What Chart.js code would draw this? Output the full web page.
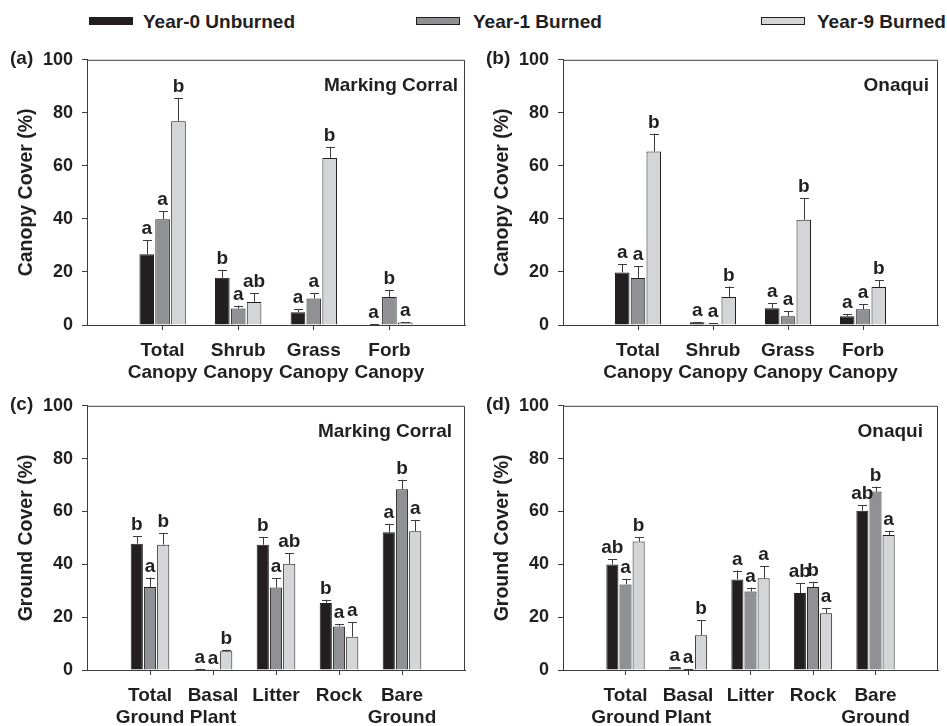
<!DOCTYPE html>
<html>
<head>
<meta charset="utf-8">
<script src="https://cdn.jsdelivr.net/npm/chart.js@4.4.1/dist/chart.umd.min.js"></script>
<style>
  body { margin: 0; background: #fff; width: 947px; height: 726px; position: relative; overflow: hidden;
         font-family: "Liberation Sans", Arial, sans-serif; }
  canvas { position: absolute; }
  .lg { position: absolute; top: 10px; font-weight: bold; font-size: 19px; line-height: 24px; color: #231f20; white-space: nowrap; }
  .sw { position: absolute; top: 17px; width: 44px; height: 8px; border: 1px solid #231f20; box-sizing: border-box; }
</style>
</head>
<body>
<div class="sw" style="left:89px;background:#231f20"></div><div class="lg" style="left:143px">Year-0 Unburned</div>
<div class="sw" style="left:416px;background:#909194"></div><div class="lg" style="left:473px">Year-1 Burned</div>
<div class="sw" style="left:761px;background:#d4d5d7"></div><div class="lg" style="left:817px">Year-9 Burned</div>

<canvas id="ca" width="474" height="346" style="left:0;top:40px"></canvas>
<canvas id="cb" width="471" height="346" style="left:476px;top:40px"></canvas>
<canvas id="cc" width="474" height="340" style="left:0;top:386px"></canvas>
<canvas id="cd" width="471" height="340" style="left:476px;top:386px"></canvas>

<script>
const seriesNames = ["Year-0 Unburned", "Year-1 Burned", "Year-9 Burned"];
const barColors = ["#231f20", "#909194", "#d4d5d7"];
const yTicks = [0, 20, 40, 60, 80, 100];

const canopyCats = [["Total", "Canopy"], ["Shrub", "Canopy"], ["Grass", "Canopy"], ["Forb", "Canopy"]];
const groundCats = [["Total", "Ground"], ["Basal", "Plant"], "Litter", "Rock", ["Bare", "Ground"]];

// (a) Marking Corral, canopy
const mcCanopy0 = [26.7, 17.8, 4.8, 0.2];
const mcCanopy1 = [39.9, 6.2, 10.0, 10.6];
const mcCanopy9 = [76.8, 8.7, 63.0, 0.9];
const mcCanopyErr0 = [5.2, 3.0, 1.1, 0.1];
const mcCanopyErr1 = [2.9, 1.1, 1.9, 2.7];
const mcCanopyErr9 = [8.9, 3.2, 4.2, 0.2];
const mcCanopyLet0 = ["a", "b", "a", "a"];
const mcCanopyLet1 = ["a", "a", "a", "b"];
const mcCanopyLet9 = ["b", "ab", "b", "a"];

// (b) Onaqui, canopy
const onCanopy0 = [19.8, 1.0, 6.3, 3.3];
const onCanopy1 = [17.7, 0.5, 3.3, 5.9];
const onCanopy9 = [65.4, 10.6, 39.7, 14.3];
const onCanopyErr0 = [3.2, 0.2, 1.9, 0.8];
const onCanopyErr1 = [4.5, 0.1, 1.8, 2.0];
const onCanopyErr9 = [6.8, 3.9, 8.1, 2.5];
const onCanopyLet0 = ["a", "a", "a", "a"];
const onCanopyLet1 = ["a", "a", "a", "a"];
const onCanopyLet9 = ["b", "b", "b", "b"];

// (c) Marking Corral, ground
const mcGround0 = [47.8, 0.4, 47.4, 25.4, 52.1];
const mcGround1 = [31.4, 0.1, 31.2, 16.5, 68.4];
const mcGround9 = [47.4, 7.1, 40.2, 12.6, 52.5];
const mcGroundErr0 = [2.9, 0.1, 3.0, 1.2, 3.2];
const mcGroundErr1 = [3.6, 0.05, 3.6, 0.8, 3.6];
const mcGroundErr9 = [4.3, 0.6, 4.1, 5.5, 4.3];
const mcGroundLet0 = ["b", "a", "b", "b", "a"];
const mcGroundLet1 = ["a", "a", "a", "a", "b"];
const mcGroundLet9 = ["b", "b", "ab", "a", "a"];

// (d) Onaqui, ground
const onGround0 = [39.9, 1.0, 34.3, 29.1, 60.3];
const onGround1 = [32.4, 0.4, 29.7, 31.4, 67.6];
const onGround9 = [48.6, 13.2, 34.7, 21.5, 51.1];
const onGroundErr0 = [2.1, 0.1, 3.3, 3.7, 2.0];
const onGroundErr1 = [2.1, 0.05, 1.5, 2.0, 1.8];
const onGroundErr9 = [1.6, 5.6, 4.7, 1.8, 1.5];
const onGroundLet0 = ["ab", "a", "a", "ab", "ab"];
const onGroundLet1 = ["a", "a", "a", "b", "b"];
const onGroundLet9 = ["b", "b", "a", "a", "a"];

const FONT = '"Liberation Sans", Arial, sans-serif';
const INK = "#231f20";
const AXIS = "#3c3c3c";
Chart.defaults.font.family = FONT;
Chart.defaults.color = INK;

// error bars, significance letters, frame and panel texts
const annotate = {
  id: "annotate",
  afterDatasetsDraw(chart, args, opts) {
    const ctx = chart.ctx;
    const area = chart.chartArea;
    const y = chart.scales.y;
    ctx.save();
    ctx.strokeStyle = AXIS;
    ctx.lineWidth = 1;
    ctx.beginPath();
    ctx.moveTo(area.left, area.top + 0.5);
    ctx.lineTo(area.right - 0.5, area.top + 0.5);
    ctx.lineTo(area.right - 0.5, area.bottom);
    ctx.stroke();

    chart.data.datasets.forEach((ds, i) => {
      const meta = chart.getDatasetMeta(i);
      meta.data.forEach((bar, j) => {
        const v = ds.data[j];
        if (v == null) return;
        const top = y.getPixelForValue(v + ds.errs[j - 1]);
        const bx = Math.round(bar.x) + 0.5;
        ctx.strokeStyle = AXIS;
        ctx.beginPath();
        ctx.moveTo(bx, bar.y);
        ctx.lineTo(bx, top);
        ctx.moveTo(bx - 4.5, Math.round(top) + 0.5);
        ctx.lineTo(bx + 4.5, Math.round(top) + 0.5);
        ctx.stroke();
        ctx.fillStyle = INK;
        ctx.font = "bold 19px " + FONT;
        ctx.textAlign = "center";
        ctx.textBaseline = "alphabetic";
        ctx.fillText(ds.letters[j - 1], bar.x, top - 6);
      });
    });

    ctx.fillStyle = INK;
    ctx.font = "bold 19px " + FONT;
    ctx.textBaseline = "middle";
    ctx.textAlign = "left";
    ctx.fillText(opts.tag, area.left - 77, area.top - 1);
    ctx.textAlign = "right";
    ctx.fillText(opts.site, area.right + opts.siteDx, area.top + 26);
    ctx.restore();
  }
};

function makePanel(id, cats, vals, errs, letters, tag, site, siteDx, yTitle, padTop, xHeight) {
  const labels = [""].concat(cats, [""]);
  const last = labels.length - 1;
  const datasets = vals.map((v, i) => ({
    label: seriesNames[i],
    data: [null].concat(v, [null]),
    backgroundColor: barColors[i],
    borderColor: INK,
    borderWidth: 1,
    categoryPercentage: 0.63,
    barPercentage: 0.92,
    errs: errs[i],
    letters: letters[i]
  }));

  return new Chart(document.getElementById(id), {
    type: "bar",
    data: { labels: labels, datasets: datasets },
    plugins: [annotate],
    options: {
      responsive: false,
      animation: false,
      devicePixelRatio: 1,
      layout: { padding: { top: padTop, right: 1, left: 0, bottom: 0 } },
      plugins: {
        legend: { display: false },
        tooltip: { enabled: false },
        annotate: { tag: tag, site: site, siteDx: siteDx }
      },
      scales: {
        x: {
          type: "category",
          offset: false,
          afterFit: (s) => { s.height = xHeight; },
          grid: {
            offset: false,
            drawOnChartArea: false,
            tickLength: 5,
            color: (c) => (c.index === 0 || c.index === last) ? "rgba(0,0,0,0)" : AXIS
          },
          border: { color: AXIS, width: 1 },
          ticks: {
            maxRotation: 0,
            autoSkip: false,
            padding: 9,
            font: { size: 19, weight: "bold", lineHeight: 1.2 }
          }
        },
        y: {
          min: 0,
          max: 100,
          afterFit: (s) => { s.width = 87; },
          afterBuildTicks: (s) => { s.ticks = yTicks.map((t) => ({ value: t })); },
          grid: { drawOnChartArea: false, tickLength: 5, color: AXIS },
          border: { color: AXIS, width: 1 },
          ticks: { padding: 9, font: { size: 18, weight: "bold" } },
          title: {
            display: true,
            text: yTitle,
            font: { size: 19.5, weight: "bold" },
            padding: { top: 15, bottom: 0 }
          }
        }
      }
    }
  });
}

makePanel("ca", canopyCats,
  [mcCanopy0, mcCanopy1, mcCanopy9], [mcCanopyErr0, mcCanopyErr1, mcCanopyErr9],
  [mcCanopyLet0, mcCanopyLet1, mcCanopyLet9],
  "(a)", "Marking Corral", -7, "Canopy Cover (%)", 16, 61);
makePanel("cb", canopyCats,
  [onCanopy0, onCanopy1, onCanopy9], [onCanopyErr0, onCanopyErr1, onCanopyErr9],
  [onCanopyLet0, onCanopyLet1, onCanopyLet9],
  "(b)", "Onaqui", -9, "Canopy Cover (%)", 16, 61);
makePanel("cc", groundCats,
  [mcGround0, mcGround1, mcGround9], [mcGroundErr0, mcGroundErr1, mcGroundErr9],
  [mcGroundLet0, mcGroundLet1, mcGroundLet9],
  "(c)", "Marking Corral", -13, "Ground Cover (%)", 14, 56);
makePanel("cd", groundCats,
  [onGround0, onGround1, onGround9], [onGroundErr0, onGroundErr1, onGroundErr9],
  [onGroundLet0, onGroundLet1, onGroundLet9],
  "(d)", "Onaqui", -15, "Ground Cover (%)", 14, 56);
</script>
</body>
</html>
